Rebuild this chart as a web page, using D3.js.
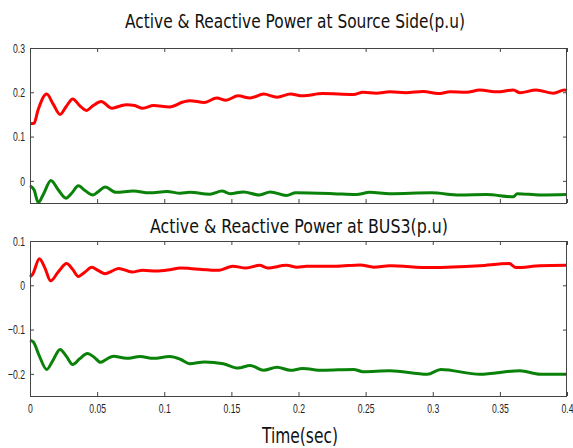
<!DOCTYPE html>
<html>
<head>
<meta charset="utf-8">
<script src="https://cdn.jsdelivr.net/npm/d3@7"></script>
<style>
  body { margin: 0; background: #fff; }
  .tick text { font-family: "Liberation Sans", Arial, sans-serif; font-size: 13.5px; fill: #222; }
  .title { font-family: "DejaVu Sans Condensed", "DejaVu Sans", sans-serif; fill: #111; }
</style>
</head>
<body>
<svg id="chart" width="573" height="448"></svg>
<script>
// temps (s) et valeurs
const xTicks = [0, 0.05, 0.1, 0.15, 0.2, 0.25, 0.3, 0.35, 0.4];
const topTicks = [0, 0.1, 0.2, 0.3];
const botTicks = [-0.2, -0.1, 0, 0.1];

// source side - P (rouge)
const srcPt = [0, 0.003, 0.006, 0.0124, 0.0175, 0.0224, 0.027, 0.0318, 0.037, 0.042, 0.047, 0.053, 0.061, 0.066, 0.072, 0.078, 0.084, 0.092, 0.104, 0.114, 0.119, 0.130, 0.139, 0.146, 0.155, 0.164, 0.174, 0.184, 0.194, 0.203, 0.218, 0.241, 0.248, 0.258, 0.268, 0.280, 0.293, 0.304, 0.313, 0.325, 0.335, 0.348, 0.360, 0.365, 0.377, 0.390, 0.398, 0.400];
const srcP  = [0.129, 0.130, 0.160, 0.196, 0.172, 0.150, 0.168, 0.185, 0.170, 0.159, 0.170, 0.179, 0.164, 0.168, 0.172, 0.170, 0.164, 0.170, 0.167, 0.178, 0.181, 0.177, 0.187, 0.182, 0.192, 0.187, 0.196, 0.189, 0.196, 0.192, 0.197, 0.195, 0.200, 0.198, 0.201, 0.199, 0.202, 0.197, 0.201, 0.200, 0.205, 0.201, 0.205, 0.199, 0.205, 0.198, 0.205, 0.204];

// source side - Q (vert)
const srcQt = [0, 0.003, 0.0062, 0.010, 0.0156, 0.021, 0.0268, 0.031, 0.036, 0.041, 0.047, 0.051, 0.056, 0.064, 0.077, 0.089, 0.102, 0.112, 0.119, 0.134, 0.143, 0.149, 0.159, 0.171, 0.179, 0.191, 0.198, 0.226, 0.243, 0.253, 0.268, 0.299, 0.320, 0.340, 0.360, 0.363, 0.380, 0.400];
const srcQ  = [-0.011, -0.020, -0.049, -0.030, 0.001, -0.020, -0.039, -0.028, -0.011, -0.022, -0.032, -0.024, -0.014, -0.026, -0.023, -0.027, -0.024, -0.028, -0.026, -0.030, -0.023, -0.029, -0.025, -0.032, -0.025, -0.033, -0.027, -0.029, -0.031, -0.026, -0.029, -0.027, -0.032, -0.031, -0.036, -0.029, -0.032, -0.031];

// BUS3 - P (rouge)
const busPt = [0, 0.002, 0.007, 0.011, 0.0154, 0.021, 0.0273, 0.032, 0.036, 0.041, 0.046, 0.051, 0.056, 0.061, 0.066, 0.076, 0.084, 0.094, 0.104, 0.112, 0.119, 0.127, 0.141, 0.151, 0.161, 0.171, 0.177, 0.191, 0.199, 0.206, 0.228, 0.246, 0.256, 0.268, 0.298, 0.335, 0.357, 0.362, 0.380, 0.400];
const busP  = [0.019, 0.025, 0.060, 0.040, 0.010, 0.030, 0.049, 0.035, 0.020, 0.030, 0.041, 0.033, 0.026, 0.032, 0.038, 0.030, 0.034, 0.032, 0.035, 0.039, 0.038, 0.036, 0.034, 0.043, 0.039, 0.045, 0.039, 0.045, 0.041, 0.043, 0.043, 0.046, 0.041, 0.044, 0.040, 0.044, 0.049, 0.040, 0.044, 0.045];

// BUS3 - Q (vert)
const busQt = [0, 0.0025, 0.007, 0.0124, 0.017, 0.0224, 0.027, 0.0318, 0.037, 0.0427, 0.048, 0.0527, 0.057, 0.0621, 0.072, 0.082, 0.092, 0.104, 0.112, 0.119, 0.130, 0.144, 0.155, 0.164, 0.174, 0.184, 0.194, 0.203, 0.218, 0.241, 0.248, 0.268, 0.296, 0.306, 0.335, 0.365, 0.380, 0.400];
const busQ  = [-0.124, -0.128, -0.160, -0.190, -0.170, -0.145, -0.160, -0.179, -0.166, -0.154, -0.163, -0.174, -0.167, -0.160, -0.165, -0.161, -0.165, -0.161, -0.167, -0.177, -0.173, -0.177, -0.187, -0.181, -0.192, -0.185, -0.192, -0.188, -0.192, -0.190, -0.195, -0.193, -0.201, -0.190, -0.201, -0.193, -0.201, -0.201];

const svg = d3.select("#chart");
const x = d3.scaleLinear().domain([0, 0.4]).range([30, 567]);

// police étroite : on compresse les labels
function narrow(sel) {
  sel.selectAll(".tick text").each(function () {
    const w = this.getComputedTextLength();
    if (w > 0) d3.select(this).attr("textLength", w * 0.64).attr("lengthAdjust", "spacingAndGlyphs");
  });
}

function panel(top, bottom, domain, ticks, labels, series) {
  const y = d3.scaleLinear().domain(domain).range([bottom, top]);
  const g = svg.append("g");

  const line = d3.line()
    .x((d) => x(d[0]))
    .y((d) => y(d[1]))
    .curve(d3.curveMonotoneX);

  series.forEach((s) => {
    g.append("path")
      .datum(d3.zip(s.t, s.v))
      .attr("d", line)
      .attr("fill", "none")
      .attr("stroke", s.color)
      .attr("stroke-width", 3);
  });

  // axes (ticks vers l'intérieur)
  const xb = d3.axisBottom(x).tickValues(xTicks).tickSizeInner(-4).tickSizeOuter(0).tickPadding(7)
    .tickFormat(labels ? d3.format("") : () => "");
  g.append("g").attr("transform", `translate(0,${bottom})`).call(xb).call(narrow);
  g.append("g").attr("transform", `translate(0,${top})`)
    .call(d3.axisTop(x).tickValues(xTicks).tickSizeInner(-4).tickSizeOuter(0).tickFormat(() => ""));
  g.append("g").attr("transform", "translate(30,0)")
    .call(d3.axisLeft(y).tickValues(ticks).tickSizeInner(-4).tickSizeOuter(0).tickPadding(5).tickFormat(d3.format("")))
    .call(narrow);
  g.append("g").attr("transform", "translate(567,0)")
    .call(d3.axisRight(y).tickValues(ticks).tickSizeInner(-4).tickSizeOuter(0).tickFormat(() => ""));

  g.selectAll(".domain").remove();
  g.selectAll(".tick line").attr("stroke", "#444");

  g.append("rect")
    .attr("x", 30.5).attr("y", top + 0.5)
    .attr("width", 536).attr("height", bottom - top)
    .attr("fill", "none")
    .attr("stroke", "#444");
  return g;
}

panel(48, 203, [-0.05, 0.3], topTicks, false, [
  { t: srcPt, v: srcP, color: "#ff0000" },
  { t: srcQt, v: srcQ, color: "#0a820a" }
]);
panel(241, 396, [-0.25, 0.1], botTicks, true, [
  { t: busPt, v: busP, color: "#ff0000" },
  { t: busQt, v: busQ, color: "#0a820a" }
]);

svg.append("text").attr("class", "title")
  .attr("x", 125).attr("y", 28)
  .attr("font-size", 19)
  .attr("textLength", 340).attr("lengthAdjust", "spacingAndGlyphs")
  .text("Active & Reactive Power at Source Side(p.u)");

svg.append("text").attr("class", "title")
  .attr("x", 150).attr("y", 233)
  .attr("font-size", 19)
  .attr("textLength", 298).attr("lengthAdjust", "spacingAndGlyphs")
  .text("Active & Reactive Power at BUS3(p.u)");

svg.append("text").attr("class", "title")
  .attr("x", 262).attr("y", 443)
  .attr("font-size", 21)
  .attr("textLength", 76).attr("lengthAdjust", "spacingAndGlyphs")
  .text("Time(sec)");
</script>
</body>
</html>
